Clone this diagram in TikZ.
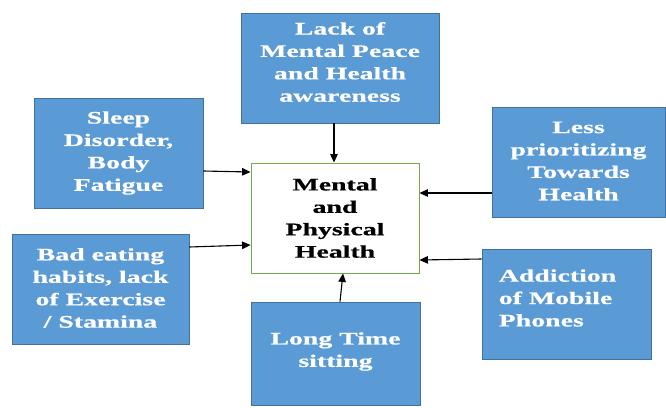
\documentclass[tikz,border=0pt]{standalone}
\usepackage{fontspec}
\newfontfamily\boxfont[FakeStretch=1.58,FakeBold=0.6]{Liberation Serif}
\usetikzlibrary{arrows.meta}
\definecolor{boxblue}{HTML}{5B9BD5}
\definecolor{boxedge}{HTML}{41719C}
\definecolor{mainedge}{HTML}{70AD47}
\tikzset{
  cause/.style={draw=boxedge, line width=0.8pt, fill=boxblue, inner sep=0pt},
  causetext/.style={text=white, font=\boxfont\bfseries\fontsize{17.6}{22.4}\selectfont,
    align=center, inner sep=0pt},
  mainbox/.style={draw=mainedge, line width=0.9pt, fill=white, text=black,
    font=\boxfont\bfseries\fontsize{17.6}{22.4}\selectfont, align=center,
    inner sep=0pt, minimum width=168pt, minimum height=110pt},
  link/.style={line width=1.1pt, -{Triangle[length=8.5pt,width=7.5pt]}}
}
\begin{document}
\begin{tikzpicture}[x=1pt,y=-1pt]
\useasboundingbox (0,0) rectangle (666,407);
\node[mainbox] (M) at (335,218) {Mental\\and\\Physical\\Health};
\node[cause, minimum width=198pt, minimum height=110pt] (A) at (340,68) {};
\node[causetext] (At) at ([yshift=6pt]A.center) {Lack of\\Mental Peace\\and Health\\awareness};
\node[cause, minimum width=169pt, minimum height=110pt] (B) at (118.5,153) {};
\node[causetext] (Bt) at (B.center) {Sleep\\Disorder,\\Body\\Fatigue};
\node[cause, minimum width=177pt, minimum height=110pt] (C) at (100.5,289) {};
\node[causetext] (Ct) at ([yshift=1pt]C.center) {Bad eating\\habits, lack\\of Exercise\\/ Stamina};
\node[cause, minimum width=173pt, minimum height=110pt] (D) at (578.5,162) {};
\node[causetext] (Dt) at ([yshift=1pt]D.center) {Less\\prioritizing\\Towards\\Health};
\node[cause, minimum width=169pt, minimum height=110pt] (E) at (566.5,304) {};
\node[causetext, align=left, anchor=west] (Et) at ([xshift=17pt,yshift=6pt]E.west)
  {Addiction\\of Mobile\\Phones};
\node[cause, minimum width=169pt, minimum height=103pt] (F) at (335.5,353.5) {};
\node[causetext] (Ft) at ([yshift=2pt]F.center) {Long Time\\sitting};
\draw[link] ([xshift=-6pt]A.south) -- ([xshift=-1pt]M.north);
\draw[link] ([yshift=-18pt]B.east) -- ([yshift=46pt]M.west);
\draw[link] ([yshift=42pt]C.east) -- ([yshift=-27pt]M.west);
\draw[link] ([yshift=-31pt]D.west) -- ([yshift=25pt]M.east);
\draw[link] ([yshift=45pt]E.west) -- ([yshift=-42pt]M.east);
\draw[link] ([xshift=4.5pt]F.north) -- ([xshift=8pt]M.south);
\end{tikzpicture}
\end{document}
